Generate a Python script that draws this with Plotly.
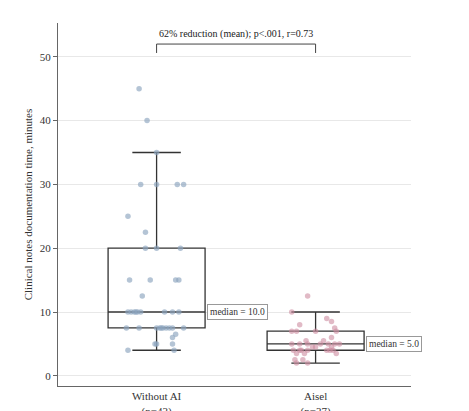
import plotly.graph_objects as go

groups = ["Without AI<br>(n=43)", "Aisel<br>(n=37)"]
without_ai = [45, 40, 35, 30, 30, 30, 30, 25, 22.5, 20, 20, 20, 15, 15, 15, 15, 12.5,
              10, 10, 10, 10, 10, 10, 10, 10, 10,
              7.5, 7.5, 7.5, 7.5, 7.5, 7.5, 7.5, 7.5, 7.5, 7.5,
              6.5, 6, 5, 5, 5, 4, 4]
without_jit = [-0.11, -0.06, 0.0, -0.1, 0.0, 0.13, 0.17, -0.18, -0.07, -0.07, 0.0, 0.15, -0.17, -0.04, 0.12, 0.14, -0.09,
               -0.18, -0.16, -0.14, -0.13, -0.1, -0.12, 0.05, 0.1, 0.14,
               -0.19, -0.11, 0.0, 0.02, 0.04, 0.06, 0.08, 0.1, 0.03, 0.17,
               0.12, 0.1, 0.0, -0.01, 0.1, -0.18, 0.11]
aisel = [12.5, 10, 9, 8.5, 8, 7.5, 7, 7, 7, 7, 6, 5.5, 5.5, 5, 5, 5, 5, 5, 5, 5,
         4.5, 4.5, 4.5, 4, 4, 4, 4, 3.5, 3.5, 3.5, 4, 4, 4, 2.5, 2.5, 2, 2]
aisel_jit = [-0.05, -0.15, 0.07, 0.1, -0.1, 0.12, -0.15, 0.0, 0.13, -0.12, 0.1, -0.06, 0.05,
             -0.15, -0.05, 0.03, 0.08, 0.12, 0.15, -0.1, 0.0, -0.02, 0.1, -0.14, -0.09, 0.07, 0.11,
             -0.12, -0.07, 0.13, -0.1, -0.05, 0.09, -0.13, -0.08, -0.12, -0.05]

fig = go.Figure()
fig.add_trace(go.Box(y=without_ai, x=[0] * len(without_ai), width=0.61, whiskerwidth=0.5,
                     boxpoints="outliers", marker=dict(opacity=0), fillcolor="white",
                     line=dict(color="#333", width=1.3), showlegend=False))
fig.add_trace(go.Box(y=aisel, x=[1] * len(aisel), width=0.61, whiskerwidth=0.5,
                     boxpoints="outliers", marker=dict(opacity=0), fillcolor="white",
                     line=dict(color="#333", width=1.3), showlegend=False))
fig.add_trace(go.Scatter(x=[j for j in without_jit], y=without_ai, mode="markers",
                         marker=dict(color="rgba(140,165,190,0.65)", size=5.5), showlegend=False))
fig.add_trace(go.Scatter(x=[1 + j for j in aisel_jit], y=aisel, mode="markers",
                         marker=dict(color="rgba(205,140,160,0.6)", size=5.5), showlegend=False))

# significance bracket
fig.add_shape(type="path", path="M 0,50.6 L 0,52 L 1,52 L 1,50.6",
              line=dict(color="#444", width=1))
fig.add_annotation(x=0.5, y=52.3, text="62% reduction (mean); p<.001, r=0.73", showarrow=False,
                   yanchor="bottom", font=dict(size=10, color="#222"))
fig.add_annotation(x=0.32, y=10, text="median = 10.0", showarrow=False, xanchor="left",
                   bordercolor="#999", borderwidth=1, borderpad=2, bgcolor="white",
                   font=dict(size=9.5, color="#333"))
fig.add_annotation(x=1.32, y=5, text="median = 5.0", showarrow=False, xanchor="left",
                   bordercolor="#999", borderwidth=1, borderpad=2, bgcolor="white",
                   font=dict(size=9.5, color="#333"))

fig.update_layout(
    width=469, height=411, plot_bgcolor="white", paper_bgcolor="white",
    margin=dict(l=50, r=66, t=15, b=33, autoexpand=False),
    font=dict(family="Liberation Serif", size=11, color="#333"),
    boxgap=0,
)
fig.update_xaxes(range=[-0.62, 1.6], tickvals=[0, 1], ticktext=groups, showgrid=False,
                 showline=True, linecolor="#666", zeroline=False, ticks="")
fig.update_yaxes(range=[-1.6, 55.3], tickvals=[0, 10, 20, 30, 40, 50], showgrid=True,
                 gridcolor="#e8e8e8", showline=True, linecolor="#666", zeroline=False,
                 ticks="outside", ticklen=4, tickcolor="#666",
                 title=dict(text="Clinical notes documentation time, minutes", standoff=4,
                            font=dict(size=11)))

fig.write_html("out.html")
